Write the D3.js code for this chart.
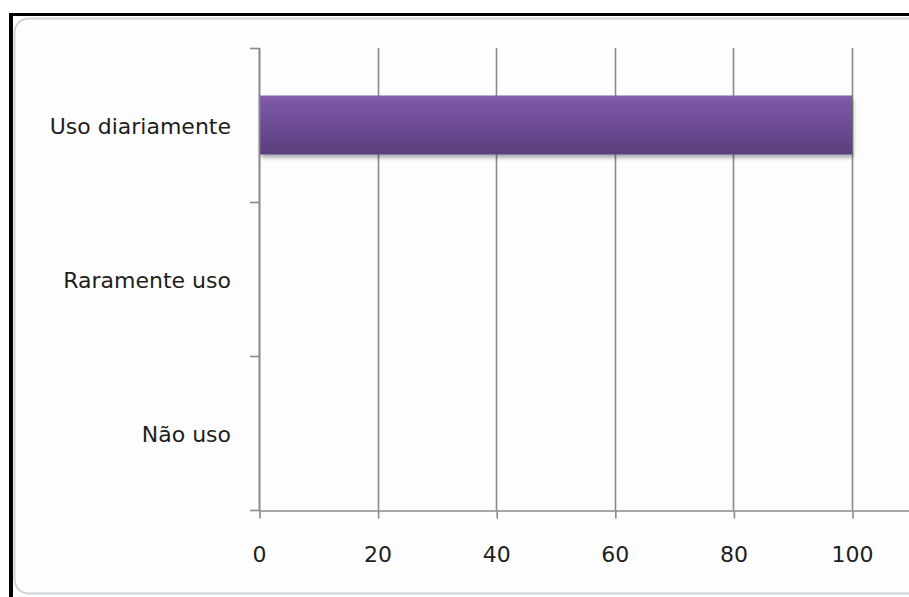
<!DOCTYPE html>
<html>
<head>
<meta charset="utf-8">
<script src="https://cdn.jsdelivr.net/npm/d3@7"></script>
<style>
  html, body { margin: 0; padding: 0; background: #ffffff; }
  svg { display: block; }
</style>
</head>
<body>
<svg id="chart" width="909" height="597"></svg>
<script>
// Survey answers, top to bottom
const categories = ["Uso diariamente", "Raramente uso", "Não uso"];
const values = [100, 0, 0];
const tickValues = [0, 20, 40, 60, 80, 100];

const W = 909, H = 597;
const svg = d3.select("#chart");

const defs = svg.append("defs");
const grad = defs.append("linearGradient")
  .attr("id", "barFill").attr("x1", 0).attr("y1", 0).attr("x2", 0).attr("y2", 1);
grad.append("stop").attr("offset", "0%").attr("stop-color", "#8260ac");
grad.append("stop").attr("offset", "8%").attr("stop-color", "#7c58a6");
grad.append("stop").attr("offset", "55%").attr("stop-color", "#6b4c93");
grad.append("stop").attr("offset", "100%").attr("stop-color", "#5b3d7b");

const shadow = defs.append("filter").attr("id", "barShadow")
  .attr("x", "-5%").attr("y", "-20%").attr("width", "110%").attr("height", "160%");
shadow.append("feGaussianBlur").attr("in", "SourceAlpha").attr("stdDeviation", 2).attr("result", "b");
shadow.append("feOffset").attr("in", "b").attr("dx", 1).attr("dy", 3).attr("result", "o");
shadow.append("feComponentTransfer").attr("in", "o").attr("result", "s")
  .append("feFuncA").attr("type", "linear").attr("slope", 0.35);
const merge = shadow.append("feMerge");
merge.append("feMergeNode").attr("in", "s");
merge.append("feMergeNode").attr("in", "SourceGraphic");

// Outer frame: black rules on top and left, chart area with rounded corners
svg.append("rect")
  .attr("x", 14.5).attr("y", 18.5).attr("width", 960).attr("height", 575)
  .attr("rx", 14).attr("ry", 14)
  .attr("fill", "#fdfdfd").attr("stroke", "#cfd3d6").attr("stroke-width", 2);
svg.append("rect").attr("x", 9).attr("y", 13).attr("width", W - 9).attr("height", 3).attr("fill", "#000");
svg.append("rect").attr("x", 9).attr("y", 13).attr("width", 4).attr("height", H - 13).attr("fill", "#000");

// Plot area
const plotLeft = 259, plotTop = 48, plotBottom = 510;
const x = d3.scaleLinear().domain([0, 120]).range([plotLeft, plotLeft + 593 * 1.2]);
const pad = 0.617;
const y = d3.scaleBand().domain(categories).range([plotTop, plotBottom])
  .paddingInner(pad).paddingOuter(pad / 2);

const gridColor = "#8a8a8a";
const labelFont = "'DejaVu Sans', sans-serif";
const labelSize = 22;

// vertical gridlines
svg.append("g").selectAll("line").data(tickValues).join("line")
  .attr("x1", d => Math.round(x(d)) + 0.5).attr("x2", d => Math.round(x(d)) + 0.5)
  .attr("y1", plotTop).attr("y2", plotBottom)
  .attr("stroke", gridColor).attr("stroke-width", 1.6);

// bars
svg.append("g").selectAll("rect").data(categories).join("rect")
  .attr("x", x(0) + 1)
  .attr("y", d => y(d))
  .attr("width", (d, i) => Math.max(0, x(values[i]) - x(0) - 1))
  .attr("height", y.bandwidth())
  .attr("fill", "url(#barFill)")
  .attr("filter", "url(#barShadow)");

// x axis
const xAxis = svg.append("g")
  .attr("transform", `translate(0,${plotBottom + 0.5})`)
  .call(d3.axisBottom(x).tickValues(tickValues).tickSize(8).tickPadding(28).tickSizeOuter(0));
xAxis.select(".domain").attr("stroke", gridColor).attr("stroke-width", 1.6);
xAxis.selectAll(".tick line").attr("stroke", gridColor).attr("stroke-width", 1.6)
  .attr("transform", "translate(0.5,0)");
xAxis.selectAll(".tick text")
  .attr("font-family", labelFont).attr("font-size", labelSize).attr("fill", "#1e1e1e");

// y axis line with ticks at category boundaries
const step = y.step();
const bounds = d3.range(categories.length + 1).map(i => plotTop + i * step);
svg.append("line")
  .attr("x1", plotLeft + 0.5).attr("x2", plotLeft + 0.5).attr("y1", plotTop).attr("y2", plotBottom)
  .attr("stroke", gridColor).attr("stroke-width", 1.6);
svg.append("g").selectAll("line").data(bounds).join("line")
  .attr("x1", plotLeft - 9).attr("x2", plotLeft + 1)
  .attr("y1", d => Math.round(d) + 0.5).attr("y2", d => Math.round(d) + 0.5)
  .attr("stroke", gridColor).attr("stroke-width", 1.6);

// category labels
svg.append("g").selectAll("text").data(categories).join("text")
  .attr("x", 231)
  .attr("y", d => y(d) + y.bandwidth() / 2 + 1.5)
  .attr("dy", "0.35em")
  .attr("text-anchor", "end")
  .attr("font-family", labelFont).attr("font-size", labelSize)
  .attr("fill", "#1e1e1e")
  .text(d => d);
</script>
</body>
</html>
